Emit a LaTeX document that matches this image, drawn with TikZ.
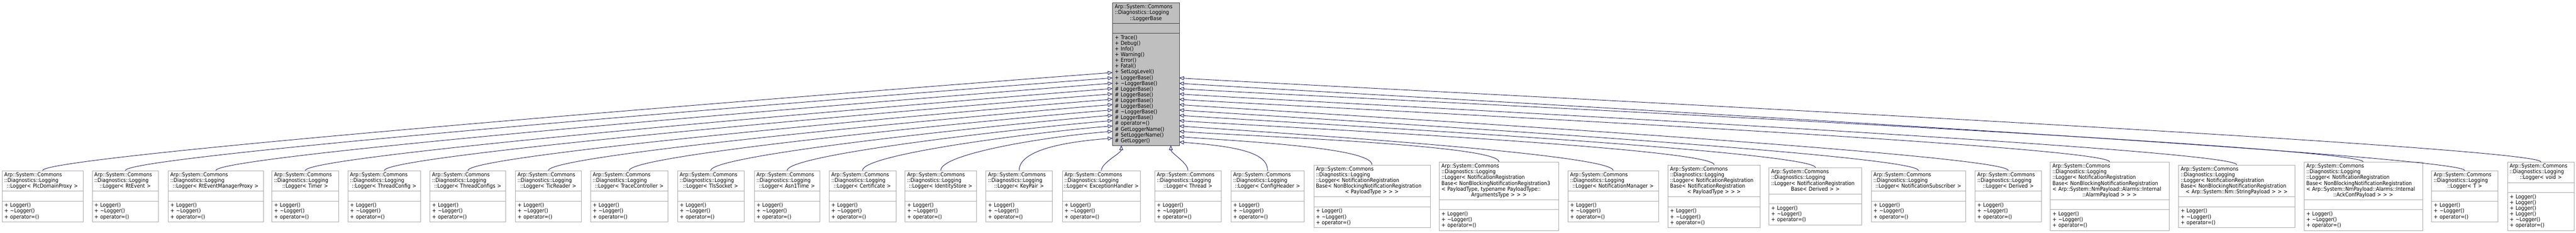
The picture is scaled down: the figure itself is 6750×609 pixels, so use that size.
\documentclass[tikz,border=0pt]{standalone}
\usepackage{fontspec}
\setmainfont{DejaVu Sans Condensed}
\usetikzlibrary{arrows.meta,calc}
\definecolor{edgeblue}{HTML}{191970}
\definecolor{boxgray}{HTML}{A8A8A8}
\definecolor{topfill}{HTML}{BFBFBF}
\tikzset{
  box/.style={draw=boxgray,line width=1pt,fill=white,inner sep=0pt,anchor=north west},
  topbox/.style={draw=black!75,line width=1pt,fill=topfill,inner sep=0pt,anchor=north west},
  sep/.style={draw=boxgray,line width=1pt},
  txt/.style={anchor=north west,inner sep=0pt,align=left,font=\fontsize{14.2}{15}\selectfont},
  inh/.style={draw=edgeblue,line width=1.2pt,-{Triangle[open,length=12pt,width=10pt]}},
}
\newcommand\ctr[1]{\makebox[\hsize][c]{#1}}
\newcommand\meth{+ Logger()\\+ \textasciitilde Logger()\\+ operator=()}
% #1 name, #2 x0, #3 x1, #4 name lines, #5 method lines, #6 title, #7 methods
\newcommand\ubox[7]{%
  \pgfmathsetmacro\BH{15*(#4+#5)+44}%
  \pgfmathsetmacro\BT{513.5-\BH/2}%
  \pgfmathsetmacro\BW{#3-#2}%
  \pgfmathsetmacro\SA{15*#4+9}%
  \pgfmathsetmacro\SB{15*#4+35}%
  \pgfmathsetmacro\TW{#3-#2-12}%
  \node[box,minimum width=\BW pt,minimum height=\BH pt] (#1) at (#2,\BT) {};
  \draw[sep] ([yshift=-\SA pt]#1.north west) -- ([yshift=-\SA pt]#1.north east);
  \draw[sep] ([yshift=-\SB pt]#1.north west) -- ([yshift=-\SB pt]#1.north east);
  \node[txt,text width=\TW pt] (#1-t) at ([xshift=6pt,yshift=-5pt]#1.north west) {#6};
  \node[txt,text width=\TW pt] (#1-m) at ([xshift=6pt,yshift=-\SB pt-5pt]#1.north west) {#7};
}
\newcommand\hd{Arp::System::Commons\\::Diagnostics::Logging\\}
\newcommand\simple[4]{\ubox{#1}{#2}{#3}{3}{3}{\hd\ctr{::Logger< #4 >}}{\meth}}
\newcommand\edgeL[2]{\coordinate (#1e) at (2915,#2); \draw[inh] (#1.north) .. controls +(0,-45) and +(-160,12) .. (#1e);}
\newcommand\edgeR[2]{\coordinate (#1e) at (3090,#2); \draw[inh] (#1.north) .. controls +(0,-45) and +(160,12) .. (#1e);}
\newcommand\edgeB[2]{\coordinate (#1e) at (#2,381); \draw[inh] (#1.north) .. controls +(0,-20) and +(0,20) .. (#1e);}
\begin{document}
\begin{tikzpicture}[x=1pt,y=-1pt]
\useasboundingbox[fill=white] (0,0) rectangle (6750,609);
% top node
\node[topbox,minimum width=175pt,minimum height=374pt] (top) at (2915,7) {};
\draw[draw=black!75,line width=1pt] ([yshift=-54pt]top.north west) -- ([yshift=-54pt]top.north east);
\draw[draw=black!75,line width=1pt] ([yshift=-80pt]top.north west) -- ([yshift=-80pt]top.north east);
\node[txt,text width=163pt] (top-t) at ([xshift=6pt,yshift=-5pt]top.north west) {Arp::System::Commons\\::Diagnostics::Logging\\\ctr{::LoggerBase}};
\node[txt,text width=163pt] (top-m) at ([xshift=6pt,yshift=-85pt]top.north west) {+ Trace()\\+ Debug()\\+ Info()\\+ Warning()\\+ Error()\\+ Fatal()\\+ SetLogLevel()\\+ LoggerBase()\\+ \textasciitilde LoggerBase()\\\# LoggerBase()\\\# LoggerBase()\\\# LoggerBase()\\\# LoggerBase()\\\# \textasciitilde LoggerBase()\\\# LoggerBase()\\\# operator=()\\\# GetLoggerName()\\\# SetLoggerName()\\\# GetLogger()};
% children
\simple{c1}{5}{217}{PlcDomainProxy}
\simple{c2}{241}{415}{RtEvent}
\simple{c3}{440}{690}{RtEventManagerProxy}
\simple{c4}{712}{887}{Timer}
\simple{c5}{911}{1102}{ThreadConfig}
\simple{c6}{1126}{1325}{ThreadConfigs}
\simple{c7}{1350}{1523}{TicReader}
\simple{c8}{1547}{1750}{TraceController}
\simple{c9}{1775}{1949}{TlsSocket}
\simple{c10}{1976}{2148}{Asn1Time}
\simple{c11}{2172}{2347}{Certificate}
\simple{c12}{2371}{2558}{IdentityStore}
\simple{c13}{2583}{2757}{KeyPair}
\simple{c14}{2783}{2988}{ExceptionHandler}
\simple{c15}{3025}{3200}{Thread}
\simple{c16}{3225}{3417}{ConfigHeader}
\ubox{c17}{3442}{3747}{5}{3}{\hd::Logger< NotificationRegistration\\Base< NonBlockingNotificationRegistration\\\ctr{< PayloadType > > >}}{\meth}
\ubox{c18}{3771}{4084}{6}{3}{\hd::Logger< NotificationRegistration\\Base< NonBlockingNotificationRegistration3\\< PayloadType, typename PayloadType::\\\ctr{ArgumentsType > > >}}{\meth}
\simple{c19}{4108}{4345}{NotificationManager}
\ubox{c20}{4370}{4612}{5}{3}{\hd::Logger< NotificationRegistration\\Base< NotificationRegistration\\\ctr{< PayloadType > > >}}{\meth}
\ubox{c21}{4635}{4878}{4}{3}{\hd::Logger< NotificationRegistration\\\ctr{Base< Derived > >}}{\meth}
\simple{c22}{4903}{5150}{NotificationSubscriber}
\simple{c23}{5175}{5349}{Derived}
\ubox{c24}{5372}{5683}{6}{3}{\hd::Logger< NotificationRegistration\\Base< NonBlockingNotificationRegistration\\< Arp::System::NmPayload::Alarms::Internal\\\ctr{::AlarmPayload > > >}}{\meth}
\ubox{c25}{5708}{6013}{5}{3}{\hd::Logger< NotificationRegistration\\Base< NonBlockingNotificationRegistration\\\ctr{< Arp::System::Nm::StringPayload > > >}}{\meth}
\ubox{c26}{6037}{6347}{6}{3}{\hd::Logger< NotificationRegistration\\Base< NonBlockingNotificationRegistration\\< Arp::System::NmPayload::Alarms::Internal\\\ctr{::AckConfPayload > > >}}{\meth}
\simple{c27}{6371}{6545}{T}
\ubox{c28}{6570}{6745}{3}{6}{\hd\ctr{::Logger< void >}}{+ Logger()\\+ Logger()\\+ Logger()\\+ Logger()\\+ \textasciitilde Logger()\\+ operator=()}
% edges
\edgeL{c1}{190}\edgeL{c2}{204}\edgeL{c3}{218}\edgeL{c4}{232}\edgeL{c5}{246}
\edgeL{c6}{260}\edgeL{c7}{274}\edgeL{c8}{288}\edgeL{c9}{302}\edgeL{c10}{316}
\edgeL{c11}{330}\edgeL{c12}{344}\edgeL{c13}{362}
\edgeB{c14}{2938}\edgeB{c15}{3068}
\edgeR{c16}{372}\edgeR{c17}{358}\edgeR{c18}{344}\edgeR{c19}{330}\edgeR{c20}{316}
\edgeR{c21}{302}\edgeR{c22}{288}\edgeR{c23}{274}\edgeR{c24}{260}\edgeR{c25}{246}
\edgeR{c26}{232}\edgeR{c27}{218}\edgeR{c28}{204}
\end{tikzpicture}
\end{document}
